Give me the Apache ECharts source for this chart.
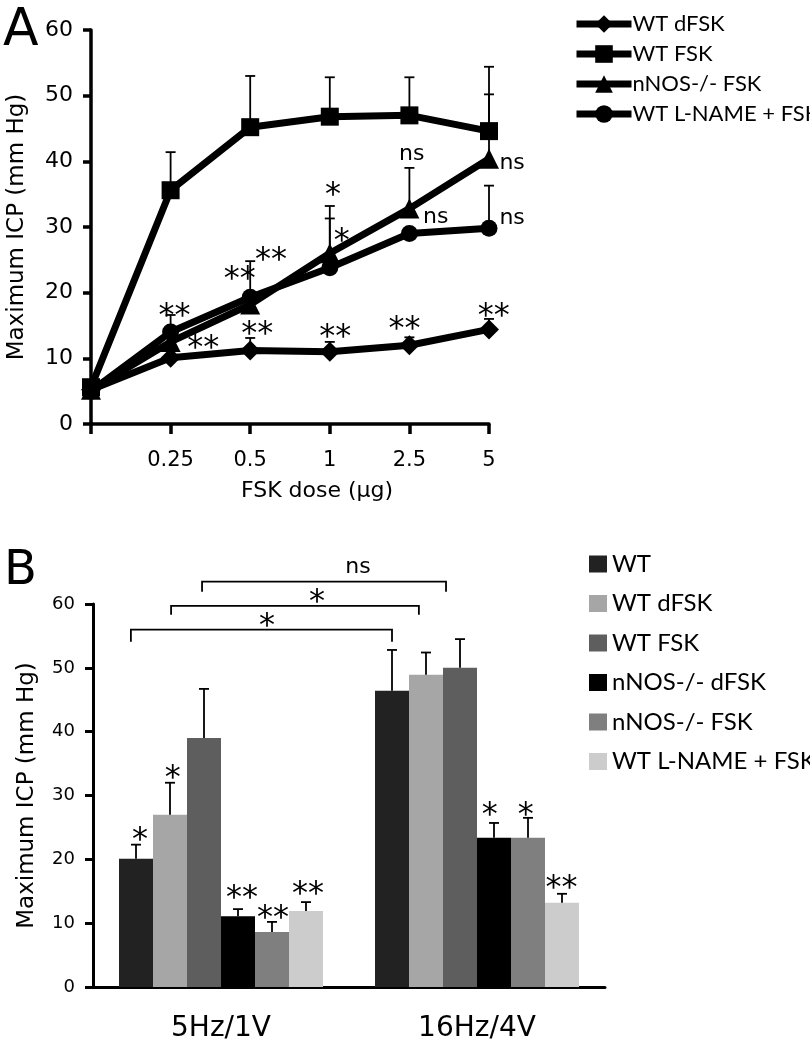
<!DOCTYPE html>
<html>
<head>
<meta charset="utf-8">
<script src="https://cdn.jsdelivr.net/npm/echarts@6/dist/echarts.min.js"></script>
<style>
  html, body { margin: 0; padding: 0; background: #fff; }
  #chart { width: 810px; height: 1049px; }
</style>
</head>
<body>
<div id="chart"></div>
<script>
// ---------- Panel A: dose response ----------
const doseLabels = ['', '0.25', '0.5', '1', '2.5', '5']
const lineNames = ['WT dFSK', 'WT FSK', 'nNOS-/- FSK', 'WT L-NAME + FSK']
const wtDfsk = [5.2, 10.1, 11.2, 11.0, 12.0, 14.4]
const wtFsk = [5.6, 35.6, 45.2, 46.8, 47.0, 44.6]
const nnosFsk = [5.2, 12.5, 18.2, 26.0, 32.8, 40.4]
const lnameFsk = [5.0, 14.0, 19.3, 23.8, 29.0, 29.8]
// top of the upper error bar (null = not drawn)
const wtDfskErr = [null, null, 13.1, 12.5, 13.2, 16.0]
const wtFskErr = [null, 41.4, 53.0, 52.8, 52.8, 54.4]
const nnosFskErr = [null, null, 24.8, 33.2, 39.0, 50.2]
const lnameFskErr = [null, 16.6, null, 31.3, null, 36.3]
// significance marks (x in dose-index units)
const marksAX = [1.05, 1.41, 1.87, 2.26, 2.09, 3.04, 3.15, 3.07, 3.94, 5.06, 4.03, 4.33, 5.29, 5.29]
const marksAY = [17.4, 12.5, 23.0, 26.0, 14.6, 35.9, 28.8, 14.2, 15.4, 17.4, 41.1, 31.5, 39.7, 31.3]
const marksAText = ['**', '**', '**', '**', '**', '*', '*', '**', '**', '**', 'ns', 'ns', 'ns', 'ns']

// ---------- Panel B: bars ----------
const stimLabels = ['5Hz/1V', '16Hz/4V']
const barNames = ['WT', 'WT dFSK', 'WT FSK', 'nNOS-/- dFSK', 'nNOS-/- FSK', 'WT L-NAME + FSK']
const icpWt = [20.1, 46.4]
const icpWtDfsk = [27.0, 48.9]
const icpWtFsk = [39.0, 50.0]
const icpNnosDfsk = [11.1, 23.4]
const icpNnosFsk = [8.6, 23.4]
const icpLname = [11.9, 13.2]
const errWt = [22.3, 52.8]
const errWtDfsk = [32.0, 52.4]
const errWtFsk = [46.7, 54.5]
const errNnosDfsk = [12.2, 25.7]
const errNnosFsk = [10.2, 26.5]
const errLname = [13.3, 14.6]
// comparison brackets (x in category-index units)
const bracketFrom = [-0.352, -0.195, -0.074]
const bracketTo = [0.668, 0.773, 0.879]
const bracketY = [56.0, 59.7, 63.5]
const bracketEnd = [54.1, 58.3, 61.9]
const marksBX = [-0.316, -0.188, 0.082, 0.203, 0.34, 1.05, 1.19, 1.33, 0.18, 0.375, 0.535]
const marksBY = [24.1, 33.7, 14.9, 11.8, 15.5, 28.0, 28.0, 16.5, 57.5, 61.3, 65.7]
const marksBText = ['*', '*', '**', '**', '**', '*', '*', '**', '*', '*', 'ns']

const barColors = ['#222222', '#a6a6a6', '#5e5e5e', '#000000', '#7f7f7f', '#cccccc']
const lineSymbols = ['diamond', 'rect', 'triangle', 'circle']
const symbolSizes = [20, 18, 20, 17]

const FONT = '"DejaVu Sans", sans-serif'
const BAR_W = 34

const chart = echarts.init(document.getElementById('chart'))

// vertical error bar with a cap on top
const errBar = (offset) => (params, api) => {
  const base = api.coord([api.value(0), api.value(1)])
  const top = api.coord([api.value(0), api.value(2)])
  const x = base[0] + offset
  const st = { stroke: '#000', lineWidth: 1.8 }
  return {
    type: 'group',
    children: [
      { type: 'line', shape: { x1: x, y1: base[1], x2: x, y2: top[1] }, style: st },
      { type: 'line', shape: { x1: x - 5, y1: top[1], x2: x + 5, y2: top[1] }, style: st }
    ]
  }
}

const textMark = (texts) => (params, api) => {
  const p = api.coord([api.value(0), api.value(1)])
  const t = texts[params.dataIndex]
  const star = t.indexOf('*') >= 0
  const size = star ? 32 : 22
  return {
    type: 'text',
    x: p[0],
    y: p[1] + (star ? size * 0.22 : 0),
    style: {
      text: t,
      font: size + 'px ' + FONT,
      fill: '#000',
      align: 'center',
      verticalAlign: 'middle',
      textAlign: 'center',
      textVerticalAlign: 'middle'
    }
  }
}

const lineValues = [wtDfsk, wtFsk, nnosFsk, lnameFsk]
const lineErrs = [wtDfskErr, wtFskErr, nnosFskErr, lnameFskErr]
const barValues = [icpWt, icpWtDfsk, icpWtFsk, icpNnosDfsk, icpNnosFsk, icpLname]
const barErrs = [errWt, errWtDfsk, errWtFsk, errNnosDfsk, errNnosFsk, errLname]

const series = []

lineNames.forEach((name, i) => {
  series.push({
    name,
    type: 'line',
    xAxisIndex: 0,
    yAxisIndex: 0,
    data: lineValues[i].map((v, k) => [k, v]),
    symbol: lineSymbols[i],
    symbolSize: symbolSizes[i],
    itemStyle: { color: '#000' },
    lineStyle: { color: '#000', width: 7 },
    z: 3
  })
  series.push({
    type: 'custom',
    xAxisIndex: 0,
    yAxisIndex: 0,
    renderItem: errBar(0),
    data: lineErrs[i].map((e, k) => e == null ? null : [k, lineValues[i][k], e]).filter(d => d),
    z: 2,
    silent: true
  })
})

series.push({
  type: 'custom',
  xAxisIndex: 0,
  yAxisIndex: 0,
  renderItem: textMark(marksAText),
  data: marksAX.map((x, k) => [x, marksAY[k]]),
  z: 5,
  silent: true
})

barNames.forEach((name, i) => {
  series.push({
    name,
    type: 'bar',
    xAxisIndex: 1,
    yAxisIndex: 1,
    data: barValues[i],
    barWidth: BAR_W,
    barGap: '0%',
    itemStyle: { color: barColors[i] },
    z: 2
  })
  series.push({
    type: 'custom',
    xAxisIndex: 1,
    yAxisIndex: 1,
    renderItem: errBar((i - 2.5) * BAR_W),
    data: barErrs[i].map((e, k) => [k, barValues[i][k], e]),
    z: 3,
    silent: true
  })
})

// comparison brackets, on a hidden value axis laid over the category bands
series.push({
  type: 'custom',
  xAxisIndex: 2,
  yAxisIndex: 1,
  renderItem: (params, api) => {
    const k = params.dataIndex
    const a = api.coord([bracketFrom[k], bracketY[k]])
    const b = api.coord([bracketTo[k], bracketY[k]])
    const a2 = api.coord([bracketFrom[k], bracketEnd[k]])
    return {
      type: 'polyline',
      shape: { points: [[a[0], a2[1]], a, b, [b[0], a2[1]]] },
      style: { stroke: '#000', lineWidth: 1.8, fill: null }
    }
  },
  data: bracketFrom.map((x, k) => [x, bracketY[k]]),
  clip: false,
  silent: true
})

series.push({
  type: 'custom',
  xAxisIndex: 2,
  yAxisIndex: 1,
  renderItem: textMark(marksBText),
  data: marksBX.map((x, k) => [x, marksBY[k]]),
  clip: false,
  z: 5,
  silent: true
})

const axisLine = (w) => ({ lineStyle: { color: '#000', width: w } })

const option = {
  animation: false,
  backgroundColor: '#fff',
  textStyle: { fontFamily: FONT, color: '#000' },
  graphic: [
    { type: 'text', left: 3, top: 5, style: { text: 'A', font: '52px ' + FONT, fill: '#000' } },
    { type: 'text', left: 4, top: 548, style: { text: 'B', font: '48px ' + FONT, fill: '#000' } }
  ],
  legend: [
    {
      data: lineNames,
      orient: 'vertical',
      left: 568,
      top: 8,
      itemWidth: 55,
      itemHeight: 22,
      itemGap: 8,
      lineStyle: { width: 7 },
      textStyle: { fontFamily: 'Lato', fontSize: 22, color: '#000', padding: [0, 0, 0, -4] },
      selectedMode: false
    },
    {
      data: barNames.map((n, i) => ({ name: n, icon: 'rect', itemStyle: { color: barColors[i] } })),
      orient: 'vertical',
      left: 584,
      top: 547,
      itemWidth: 18,
      itemHeight: 17,
      itemGap: 15.5,
      textStyle: { fontFamily: 'Lato', fontSize: 24, color: '#000' },
      selectedMode: false
    }
  ],
  grid: [
    { left: 91, top: 30, width: 398, height: 394 },
    { left: 93, top: 604, width: 512, height: 383 }
  ],
  xAxis: [
    {
      gridIndex: 0,
      type: 'value',
      min: 0,
      max: 5,
      interval: 1,
      splitLine: { show: false },
      axisLine: axisLine(3.5),
      axisTick: { length: 10, lineStyle: { width: 3.5, color: '#000' } },
      axisLabel: {
        formatter: (v) => doseLabels[v],
        fontFamily: FONT, fontSize: 21, color: '#000', margin: 26
      },
      name: 'FSK dose (\u03bcg)',
      nameLocation: 'middle',
      nameGap: 56,
      nameTextStyle: { fontFamily: FONT, fontSize: 22, color: '#000', padding: [0, 0, 0, 54] }
    },
    {
      gridIndex: 1,
      type: 'category',
      data: stimLabels,
      axisLine: axisLine(3),
      axisTick: { length: 10, lineStyle: { width: 3, color: '#000' } },
      axisLabel: { fontFamily: FONT, fontSize: 28, color: '#000', margin: 28 }
    },
    {
      gridIndex: 1,
      type: 'value',
      min: -0.5,
      max: 1.5,
      show: false
    }
  ],
  yAxis: [
    {
      gridIndex: 0,
      type: 'value',
      min: 0,
      max: 60,
      interval: 10,
      splitLine: { show: false },
      axisLine: { show: true, onZero: false, lineStyle: { color: '#000', width: 3.5 } },
      axisTick: { show: true, length: 8, lineStyle: { width: 3.5, color: '#000' } },
      axisLabel: { fontFamily: FONT, fontSize: 22, color: '#000', margin: 18 },
      name: 'Maximum ICP (mm Hg)',
      nameLocation: 'middle',
      nameGap: 62,
      nameTextStyle: { fontFamily: FONT, fontSize: 23, color: '#000' }
    },
    {
      gridIndex: 1,
      type: 'value',
      min: 0,
      max: 60,
      interval: 10,
      splitLine: { show: false },
      axisLine: { show: true, onZero: false, lineStyle: { color: '#000', width: 3 } },
      axisTick: { show: true, length: 8, lineStyle: { width: 3, color: '#000' } },
      axisLabel: { fontFamily: FONT, fontSize: 18, color: '#000', margin: 18 },
      name: 'Maximum ICP (mm Hg)',
      nameLocation: 'middle',
      nameGap: 54,
      nameTextStyle: { fontFamily: FONT, fontSize: 23, color: '#000' }
    }
  ],
  series
}

chart.setOption(option)
</script>
</body>
</html>
